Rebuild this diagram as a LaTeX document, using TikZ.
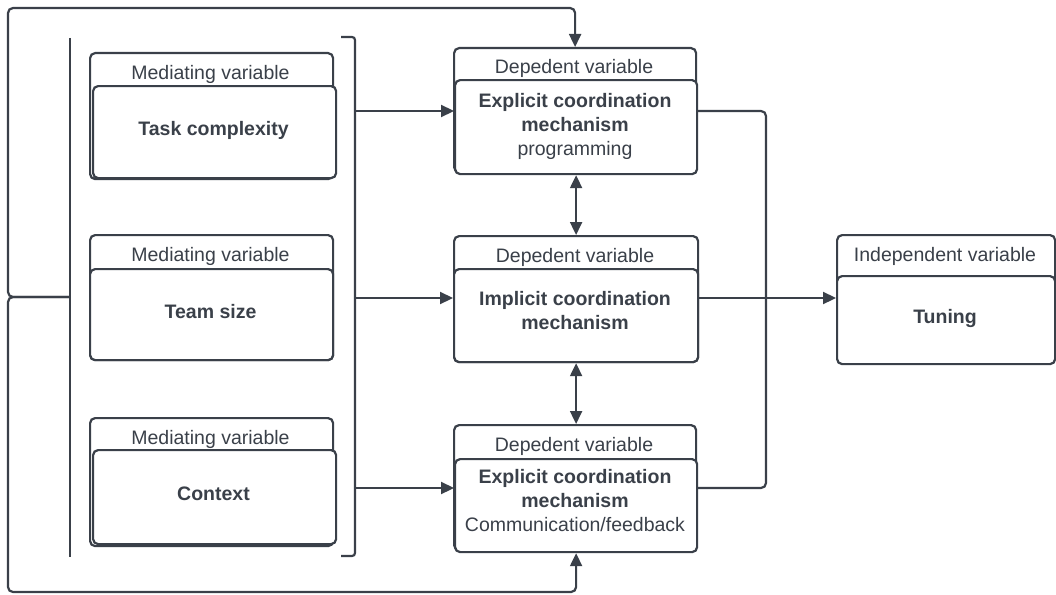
\documentclass[tikz,border=0pt]{standalone}
\usepackage{fontspec}
\setmainfont{Liberation Sans}
\usetikzlibrary{arrows.meta}
\definecolor{ink}{HTML}{3A4049}
\begin{document}
\begin{tikzpicture}[x=1pt,y=-1pt,
  box/.style={draw=ink, line width=2.2pt, rounded corners=5pt, fill=white, anchor=north west, inner sep=0pt},
  hdtxt/.style={text=ink, font=\fontsize{19.5}{24}\selectfont, anchor=base, inner sep=0pt},
  maintxt/.style={text=ink, font=\fontsize{19.5}{24}\selectfont\bfseries, align=center, inner sep=0pt},
  wire/.style={draw=ink, line width=2.2pt, rounded corners=5pt},
  arr/.style={wire, -{Triangle[length=13pt,width=12pt]}},
  darr/.style={wire, {Triangle[length=13pt,width=12pt]}-{Triangle[length=13pt,width=12pt]}}]
\useasboundingbox (0,0) rectangle (1056,594);

% mediating boxes
\node[box, minimum width=243pt, minimum height=126pt] (m1h) at (89,52) {};
\node[hdtxt] (m1ht) at (210.5,79) {Mediating variable};
\node[box, minimum width=243pt, minimum height=92pt] (m1) at (92,85) {};
\node[maintxt] (m1t) at (213.5,130) {Task complexity};

\node[box, minimum width=243pt, minimum height=125pt] (m2h) at (89,234) {};
\node[hdtxt] (m2ht) at (210.5,261) {Mediating variable};
\node[box, minimum width=243pt, minimum height=91pt] (m2) at (89,268) {};
\node[maintxt] (m2t) at (210.5,312) {Team size};

\node[box, minimum width=243pt, minimum height=128pt] (m3h) at (89,417) {};
\node[hdtxt] (m3ht) at (210.5,444) {Mediating variable};
\node[box, minimum width=243pt, minimum height=94pt] (m3) at (92,449) {};
\node[maintxt] (m3t) at (213.5,494) {Context};

% dependent boxes
\node[box, minimum width=242pt, minimum height=124pt] (d1h) at (453,47) {};
\node[hdtxt] (d1ht) at (574,74) {Depedent variable};
\node[box, minimum width=242pt, minimum height=94pt] (d1) at (454,79) {};
\node[maintxt] (d1t) at (575,126) {Explicit coordination\\mechanism\\{\mdseries programming}};

\node[box, minimum width=244pt, minimum height=126pt] (d2h) at (453,235) {};
\node[hdtxt] (d2ht) at (575,262) {Depedent variable};
\node[box, minimum width=244pt, minimum height=93pt] (d2) at (453,268) {};
\node[maintxt] (d2t) at (575,311) {Implicit coordination\\mechanism};

\node[box, minimum width=242pt, minimum height=125pt] (d3h) at (453,424) {};
\node[hdtxt] (d3ht) at (574,451) {Depedent variable};
\node[box, minimum width=242pt, minimum height=93pt] (d3) at (454,458) {};
\node[maintxt] (d3t) at (575,501) {Explicit coordination\\mechanism\\{\mdseries Communication/feedback}};

% tuning
\node[box, minimum width=218pt, minimum height=128pt] (th) at (836,234) {};
\node[hdtxt] (tht) at (945,261) {Independent variable};
\node[box, minimum width=218pt, minimum height=88pt] (t) at (836,275) {};
\node[maintxt] (tt) at (945,318) {Tuning};

% brackets
\coordinate (lbt) at (70,38);
\coordinate (lbb) at (70,557);
\draw[wire] (lbt) -- (lbb);
\coordinate (rbt) at (341,37);
\coordinate (rbb) at (341,556);
\draw[wire, rounded corners=3pt] (rbt) -- (355,37) -- (355,556) -- (rbb);

\coordinate (br1) at (355,111);
\coordinate (br2) at (355,298);
\coordinate (br3) at (355,488);
\draw[arr] (br1) -- (br1 -| d1.west);
\draw[arr] (br2) -- (br2 -| d2.west);
\draw[arr] (br3) -- (br3 -| d3.west);

% outer loop
\coordinate (lb) at (70,297);
\coordinate (lo) at (8,297);
\coordinate (lot) at (8,8);
\coordinate (lob) at (8,592);
\draw[arr] (lb) -- (lo) -- (lot) -- (lot -| d1h.north) -- (d1h.north);
\draw[arr] (lb) -- (lo) -- (lob) -- (lob -| d3.south) -- (d3.south);

% vertical double arrows
\draw[darr] (d1.south) -- (d1.south |- d2h.north);
\draw[darr] (d2.south) -- (d2.south |- d3h.north);

% right merge
\coordinate (j) at (766,298);
\draw[wire] (d1.east |- br1) -- (j |- br1) -- (j);
\draw[wire] (d3.east |- br3) -- (j |- br3) -- (j);
\draw[arr] (d2.east |- j) -- (t.west |- j);
\end{tikzpicture}
\end{document}
